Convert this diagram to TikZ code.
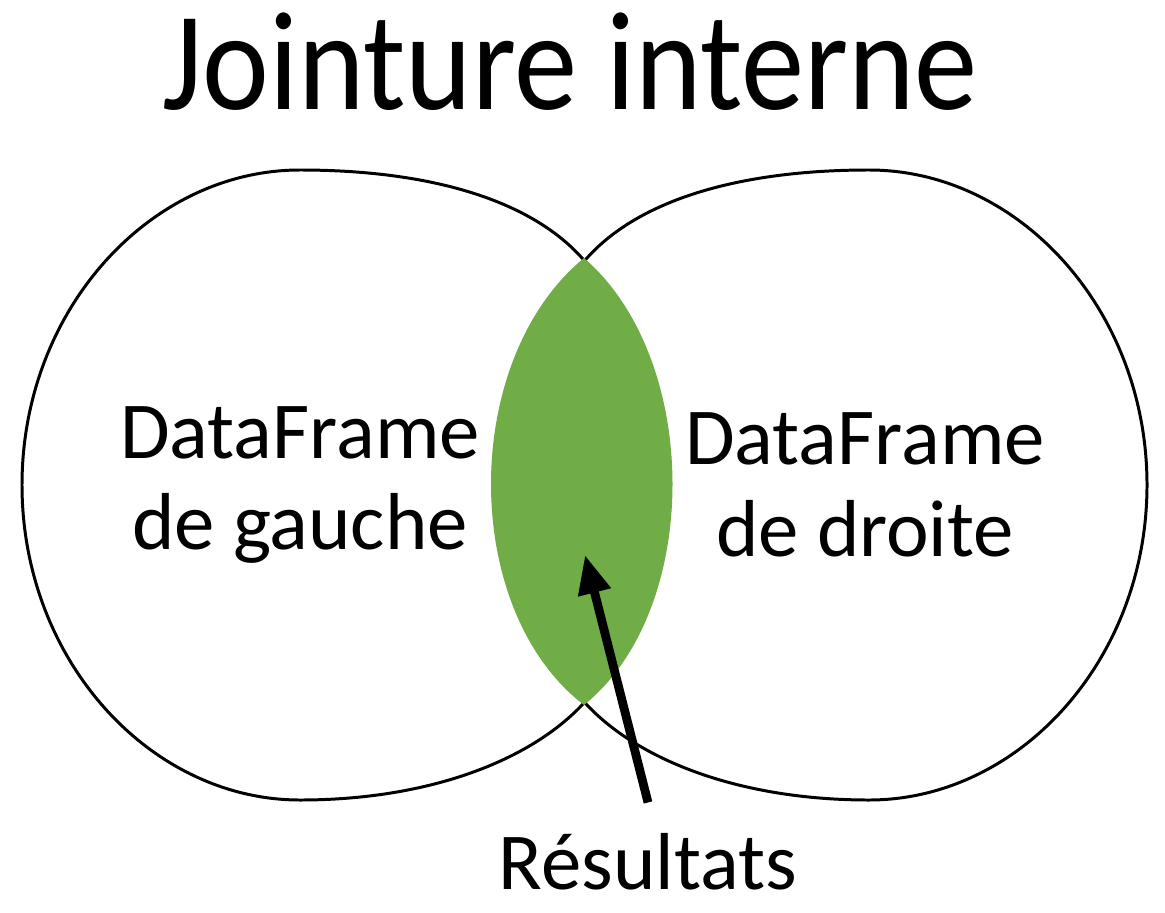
\documentclass[tikz,border=0pt]{standalone}
\usepackage{fontspec}
\setmainfont{Carlito}
\usetikzlibrary{arrows.meta, positioning}
\definecolor{lensgreen}{HTML}{70AD47}

\tikzset{
  setline/.style={draw=black, line width=1.7pt},
  label/.style={font=\fontsize{46}{52}\selectfont, align=center},
}

\begin{document}
\begin{tikzpicture}[x=0.02cm, y=-0.02cm]
  \useasboundingbox (0,0) rectangle (1165,912);

  % Title
  \node[font=\fontsize{80}{80}\selectfont, xscale=0.9] (title) at (570,62) {Jointure interne};

  % Left and right sets
  \draw[setline] (22,485) .. controls (22,310) and (150,170) .. (300,170)
    .. controls (430,170) and (530,200) .. (582,258)
    .. controls (640,320) and (664,410) .. (664,485)
    .. controls (664,560) and (640,650) .. (582,705)
    .. controls (530,760) and (430,800) .. (300,800)
    .. controls (150,800) and (22,660) .. (22,485) -- cycle;
  \draw[setline] (1147,485) .. controls (1147,310) and (1019,170) .. (869,170)
    .. controls (739,170) and (639,200) .. (587,258)
    .. controls (529,320) and (505,410) .. (505,485)
    .. controls (505,560) and (529,650) .. (587,705)
    .. controls (639,760) and (739,800) .. (869,800)
    .. controls (1019,800) and (1147,660) .. (1147,485) -- cycle;

  % Intersection
  \fill[lensgreen] (584,258) .. controls (460,360) and (460,610) .. (584,705)
                             .. controls (702,610) and (702,360) .. (584,258) -- cycle;

  % Labels
  \node[label] (left) at (300,485) {DataFrame\\de gauche};
  \node[label] (right) at (865,485) {DataFrame\\de droite};
  \node[label] (result) at (648,862) {Résultats};
  \coordinate (tip) at (585,555);

  \draw[line width=5pt, -{Triangle[length=22pt, width=18pt]}] (result.north) ++(0,-25) -- (tip);
\end{tikzpicture}
\end{document}
